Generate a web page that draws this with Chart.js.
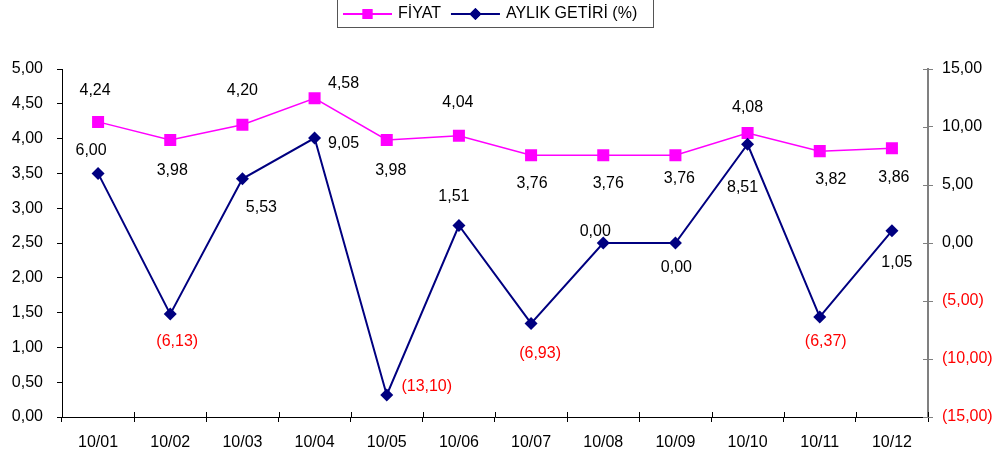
<!DOCTYPE html>
<html>
<head>
<meta charset="utf-8">
<script src="https://cdn.jsdelivr.net/npm/chart.js@4.4.1/dist/chart.umd.min.js"></script>
<style>
  html, body { margin: 0; padding: 0; background: #fff; }
  #wrap { width: 999px; height: 459px; position: relative; }
</style>
</head>
<body>
<div id="wrap"><canvas id="chart" width="999" height="459"></canvas></div>
<script>
var months = ['10/01', '10/02', '10/03', '10/04', '10/05', '10/06', '10/07', '10/08', '10/09', '10/10', '10/11', '10/12'];
var fiyat = [4.24, 3.98, 4.20, 4.58, 3.98, 4.04, 3.76, 3.76, 3.76, 4.08, 3.82, 3.86];
var getiri = [6.00, -6.13, 5.53, 9.05, -13.10, 1.51, -6.93, 0.00, 0.00, 8.51, -6.37, 1.05];

// label offsets from each point, in px [dx, dy]
var fiyatOffsets = [[-3, -31], [2, 31], [0, -34], [29, -15], [4, 31], [-1, -33], [1, 28], [5, 28], [4, 23], [0, -25], [11, 28], [2, 29]];
var getiriOffsets = [[-7, -23], [7, 27], [19, 29], [29, 6], [40, -8], [-5, -29], [9, 30], [-8, -11], [1, 25], [-5, 43], [6, 25], [5, 32]];

var FONT = '"Liberation Sans", Arial, sans-serif';
var PINK = '#FF00FF';
var NAVY = '#000080';

function fmt(v) {
    var s = Math.abs(v).toFixed(2).replace('.', ',');
    return v < 0 ? '(' + s + ')' : s;
}

var pointLabels = {
    id: 'pointLabels',
    afterDatasetsDraw: function (chart) {
        var ctx = chart.ctx;
        var offsets = [fiyatOffsets, getiriOffsets];
        ctx.save();
        ctx.font = '16px ' + FONT;
        ctx.textAlign = 'center';
        ctx.textBaseline = 'middle';
        chart.data.datasets.forEach(function (ds, di) {
            chart.getDatasetMeta(di).data.forEach(function (pt, i) {
                var v = ds.data[i];
                ctx.fillStyle = v < 0 ? '#FF0000' : '#000';
                ctx.fillText(fmt(v), pt.x + offsets[di][i][0], pt.y + offsets[di][i][1]);
            });
        });
        ctx.restore();
    }
};

// small tick marks on the inner side of x axis and right axis
var innerTicks = {
    id: 'innerTicks',
    afterDraw: function (chart) {
        var ctx = chart.ctx;
        var x = chart.scales.x, y2 = chart.scales.y2;
        ctx.save();
        ctx.lineWidth = 1;
        ctx.strokeStyle = '#000';
        ctx.beginPath();
        for (var i = 0; i <= months.length; i++) {
            var px = Math.round(x.getPixelForValue(i - 0.5)) + 0.5;
            ctx.moveTo(px, x.top);
            ctx.lineTo(px, x.top - 5);
        }
        ctx.stroke();
        ctx.strokeStyle = '#808080';
        ctx.beginPath();
        y2.ticks.forEach(function (t) {
            var py = Math.round(y2.getPixelForValue(t.value)) + 0.5;
            ctx.moveTo(y2.left, py);
            ctx.lineTo(y2.left - 5, py);
        });
        ctx.stroke();
        ctx.restore();
    }
};

var boxLegend = {
    id: 'boxLegend',
    afterDraw: function (chart) {
        var ctx = chart.ctx;
        var ds = chart.data.datasets;
        ctx.save();
        ctx.font = '16px ' + FONT;
        ctx.textBaseline = 'middle';
        var cy = 14;
        var x = 343;
        ds.forEach(function (d) {
            ctx.strokeStyle = d.borderColor;
            ctx.lineWidth = 2;
            ctx.beginPath();
            ctx.moveTo(x, cy);
            ctx.lineTo(x + 49, cy);
            ctx.stroke();
            ctx.fillStyle = d.pointBackgroundColor;
            Chart.helpers.drawPoint(ctx, { pointStyle: d.pointStyle, radius: d.pointStyle === 'rect' ? 7 : 6, rotation: 0, borderWidth: 0 }, x + 24.5, cy);
            ctx.fill();
            ctx.fillStyle = '#000';
            ctx.fillText(d.label, x + 55, cy);
            x += 55 + ctx.measureText(d.label).width + 10;
        });
        ctx.strokeStyle = '#555';
        ctx.lineWidth = 1;
        ctx.strokeRect(337.5, -1, 316, 28.5);
        ctx.restore();
    }
};

var ctx = document.getElementById('chart');

new Chart(ctx, {
    type: 'line',
    data: {
        labels: months,
        datasets: [{
            label: 'FİYAT',
            data: fiyat,
            yAxisID: 'y',
            borderColor: PINK,
            backgroundColor: PINK,
            pointBackgroundColor: PINK,
            pointBorderColor: PINK,
            pointStyle: 'rect',
            pointRadius: 8.5,
            pointBorderWidth: 0,
            borderWidth: 1.5,
            tension: 0,
            order: 1
        }, {
            label: 'AYLIK GETİRİ (%)',
            data: getiri,
            yAxisID: 'y2',
            borderColor: NAVY,
            backgroundColor: NAVY,
            pointBackgroundColor: NAVY,
            pointBorderColor: NAVY,
            pointStyle: 'rectRot',
            pointRadius: 6.5,
            pointBorderWidth: 0,
            borderWidth: 2,
            tension: 0,
            order: 0
        }]
    },
    options: {
        responsive: false,
        animation: false,
        layout: { padding: { top: 69, left: 0, right: 0, bottom: 0 } },
        plugins: {
            legend: { display: false },
            tooltip: { enabled: false }
        },
        scales: {
            x: {
                offset: true,
                grid: { offset: true, drawOnChartArea: false, drawTicks: true, tickLength: 5, color: '#000' },
                border: { color: '#000', width: 1 },
                ticks: { color: '#000', font: { family: FONT, size: 16 }, padding: 11, maxRotation: 0, autoSkip: false },
                afterFit: function (s) { s.height = 42; }
            },
            y: {
                position: 'left',
                min: 0,
                max: 5,
                grid: { drawOnChartArea: false, drawTicks: true, tickLength: 5, color: '#000' },
                border: { color: '#000', width: 1 },
                ticks: {
                    stepSize: 0.5,
                    color: '#000',
                    padding: 14,
                    font: { family: FONT, size: 16 },
                    callback: function (v) { return fmt(v); }
                },
                afterFit: function (s) { s.width = 62; }
            },
            y2: {
                position: 'right',
                min: -15,
                max: 15,
                grid: { drawOnChartArea: false, drawTicks: true, tickLength: 5, color: '#808080' },
                border: { color: '#808080', width: 2 },
                ticks: {
                    stepSize: 5,
                    padding: 9,
                    font: { family: FONT, size: 16 },
                    color: function (c) { return c.tick.value < 0 ? '#FF0000' : '#000'; },
                    callback: function (v) { return fmt(v); }
                },
                afterFit: function (s) { s.width = 71; }
            }
        }
    },
    plugins: [pointLabels, innerTicks, boxLegend]
});
</script>
</body>
</html>
